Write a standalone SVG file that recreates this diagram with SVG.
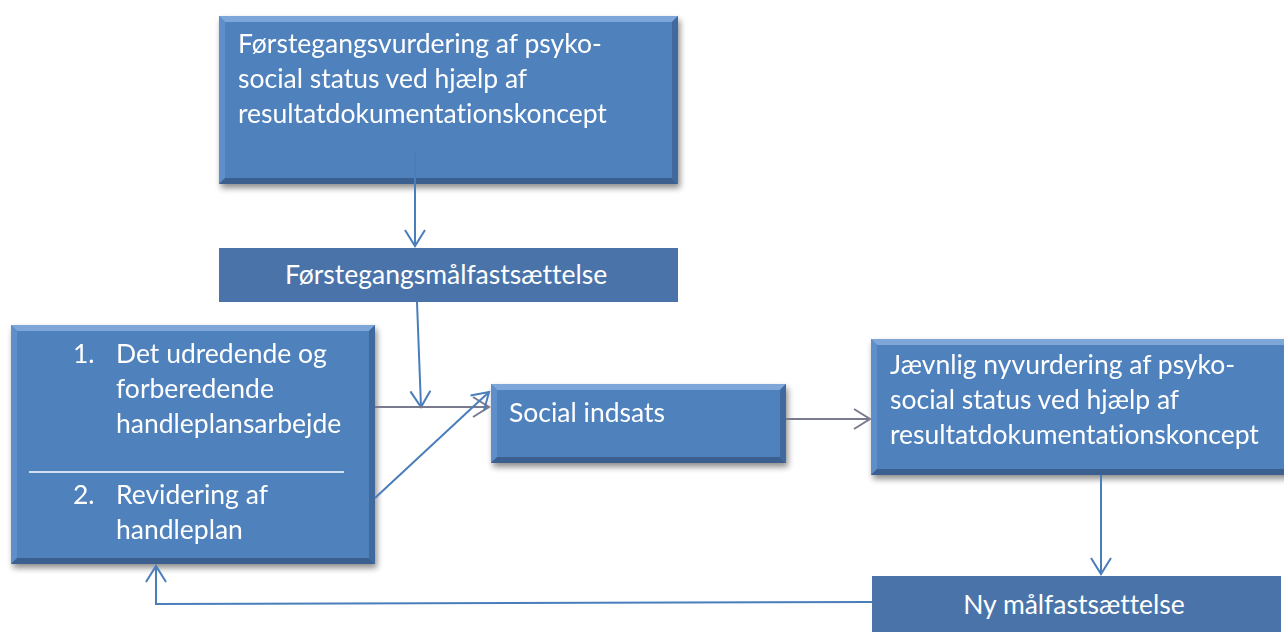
<svg xmlns="http://www.w3.org/2000/svg" width="1284" height="632" viewBox="0 0 1284 632">
<style>
.t{font-family:Lato,"Open Sans","Noto Sans",sans-serif;font-size:26.5px;fill:#ffffff;font-variant-ligatures:none}
.face{fill:#4F81BD}
.flat{fill:#4A74A9}
.bt{fill:#7EA6D9}
.bl{fill:#5E8FCB}
.bb{fill:#3A6090}
.br{fill:#416B9E}
.blue{stroke:#4A7EBB;stroke-width:2;fill:none}
.gray{stroke:#7A7A8E;stroke-width:2;fill:none}
</style>
<defs>
<filter id="sh" x="-10%" y="-10%" width="130%" height="130%">
<feGaussianBlur in="SourceAlpha" stdDeviation="3"/>
<feOffset dx="2" dy="4"/>
<feComponentTransfer><feFuncA type="linear" slope="0.45"/></feComponentTransfer>
<feMerge><feMergeNode/><feMergeNode in="SourceGraphic"/></feMerge>
</filter>
<marker id="ab" viewBox="0 0 24 24" refX="22" refY="12" markerWidth="24" markerHeight="24" markerUnits="userSpaceOnUse" orient="auto">
<path d="M6,2 L22,12 L6,22" fill="none" stroke="#4A7EBB" stroke-width="2"/>
</marker>
<marker id="ag" viewBox="0 0 24 24" refX="22" refY="12" markerWidth="24" markerHeight="24" markerUnits="userSpaceOnUse" orient="auto">
<path d="M6,2 L22,12 L6,22" fill="none" stroke="#7A7A8E" stroke-width="2"/>
</marker>
</defs>

<g id="n1" filter="url(#sh)">
<rect class="face" x="219" y="16" width="459" height="168"/>
<polygon class="bt" points="219,16 678,16 672,22 225,22"/>
<polygon class="bl" points="219,16 225,22 225,178 219,184"/>
<polygon class="bb" points="219,184 225,178 672,178 678,184"/>
<polygon class="br" points="678,16 678,184 672,178 672,22"/>
<text class="t" x="238" y="53">Førstegangsvurdering af psyko-</text>
<text class="t" x="238" y="88">social status ved hjælp af</text>
<text class="t" x="238" y="123">resultatdokumentationskoncept</text>
</g>

<g id="n2">
<rect class="flat" x="219" y="248" width="459" height="54"/>
<text class="t" x="446" y="284" text-anchor="middle">Førstegangsmålfastsættelse</text>
</g>

<g id="n3" filter="url(#sh)">
<rect class="face" x="11" y="325" width="364" height="239"/>
<polygon class="bt" points="11,325 375,325 369,331 17,331"/>
<polygon class="bl" points="11,325 17,331 17,558 11,564"/>
<polygon class="bb" points="11,564 17,558 369,558 375,564"/>
<polygon class="br" points="375,325 375,564 369,558 369,331"/>
<text class="t" x="73" y="363">1.</text>
<text class="t" x="116" y="363">Det udredende og</text>
<text class="t" x="116" y="398">forberedende</text>
<text class="t" x="116" y="433">handleplansarbejde</text>
<line x1="29" y1="472" x2="344" y2="472" stroke="#ffffff" stroke-width="1.5"/>
<text class="t" x="73" y="504">2.</text>
<text class="t" x="116" y="504">Revidering af</text>
<text class="t" x="116" y="539">handleplan</text>
</g>

<g id="n4" filter="url(#sh)">
<rect class="face" x="491" y="384" width="295" height="79"/>
<polygon class="bt" points="491,384 786,384 780,390 497,390"/>
<polygon class="bl" points="491,384 497,390 497,457 491,463"/>
<polygon class="bb" points="491,463 497,457 780,457 786,463"/>
<polygon class="br" points="786,384 786,463 780,457 780,390"/>
<text class="t" x="509" y="422">Social indsats</text>
</g>

<g id="n5" filter="url(#sh)">
<rect class="face" x="871" y="339" width="420" height="136"/>
<polygon class="bt" points="871,339 1291,339 1285,345 877,345"/>
<polygon class="bl" points="871,339 877,345 877,469 871,475"/>
<polygon class="bb" points="871,475 877,469 1285,469 1291,475"/>
<text class="t" x="890" y="374">Jævnlig nyvurdering af psyko-</text>
<text class="t" x="890" y="409">social status ved hjælp af</text>
<text class="t" x="890" y="444">resultatdokumentationskoncept</text>
</g>

<g id="n6">
<rect class="flat" x="872" y="576" width="409" height="60"/>
<text class="t" x="1074" y="614" text-anchor="middle">Ny målfastsættelse</text>
</g>

<g id="connectors">
<line class="blue" x1="415" y1="152" x2="415" y2="246" marker-end="url(#ab)"/>
<line class="blue" x1="417" y1="302" x2="421" y2="407" marker-end="url(#ab)"/>
<line class="gray" x1="375" y1="407" x2="489" y2="407" marker-end="url(#ag)"/>
<line class="blue" x1="375" y1="498" x2="489" y2="392" marker-end="url(#ab)"/>
<line class="gray" x1="786" y1="419" x2="870" y2="419" marker-end="url(#ag)"/>
<line class="blue" x1="1101" y1="475" x2="1101" y2="574" marker-end="url(#ab)"/>
<polyline class="blue" points="872,602 156,604 156,566" marker-end="url(#ab)"/>
</g>
</svg>
